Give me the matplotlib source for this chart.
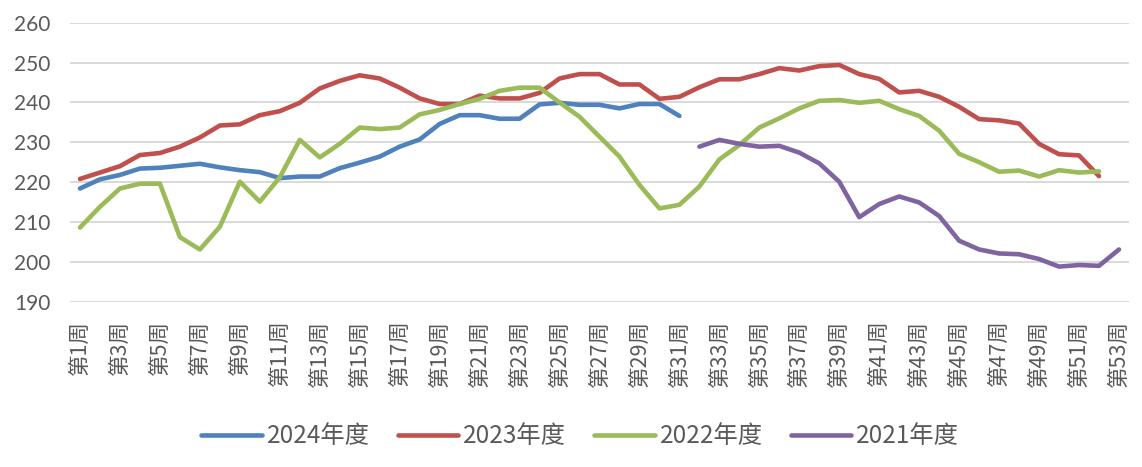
import matplotlib
matplotlib.use("Agg")
import matplotlib.pyplot as plt
import numpy as np

plt.rcParams['font.family'] = ['Lato', 'Noto Sans CJK SC', 'DejaVu Sans']

weeks = np.arange(1, 54)
week_labels = [f"第{w}周" for w in weeks]

y2024 = [218.4, 220.7, 221.8, 223.4, 223.6, 224.1, 224.6, 223.7, 223.0, 222.5,
         221.0, 221.4, 221.4, 223.5, 224.9, 226.4, 228.9, 230.7, 234.6, 236.8,
         236.8, 235.9, 235.9, 239.5, 239.9, 239.4, 239.4, 238.5, 239.6, 239.6,
         236.6]
y2023 = [220.8, 222.4, 224.0, 226.8, 227.3, 228.9, 231.2, 234.2, 234.5, 236.8,
         237.8, 239.9, 243.5, 245.4, 246.8, 246.0, 243.7, 241.0, 239.6, 239.6,
         241.7, 241.0, 241.0, 242.4, 246.0, 247.1, 247.1, 244.5, 244.5, 240.9,
         241.4, 243.8, 245.8, 245.8, 247.1, 248.6, 248.0, 249.1, 249.4, 247.1,
         245.9, 242.5, 242.9, 241.4, 238.9, 235.8, 235.5, 234.7, 229.6, 227.0,
         226.7, 221.5]
y2022 = [208.6, 213.8, 218.4, 219.6, 219.6, 206.2, 203.1, 208.8, 220.1, 215.1,
         221.2, 230.6, 226.2, 229.6, 233.7, 233.3, 233.7, 237.0, 238.1, 239.6,
         240.9, 242.9, 243.7, 243.7, 240.0, 236.4, 231.4, 226.4, 219.3, 213.4,
         214.3, 218.9, 225.7, 229.3, 233.7, 236.0, 238.5, 240.4, 240.6, 239.9,
         240.4, 238.3, 236.6, 232.9, 227.1, 225.0, 222.6, 222.9, 221.4, 223.0,
         222.4, 222.7]
# 2021 starts at week 32
y2021 = [228.9, 230.6, 229.6, 228.9, 229.1, 227.4, 224.7, 220.1, 211.2, 214.5,
         216.4, 214.9, 211.5, 205.3, 203.1, 202.1, 201.9, 200.7, 198.8, 199.2,
         199.0, 203.1]

fig = plt.figure(figsize=(11.42, 4.67), dpi=100)
ax = fig.add_axes([0.0613, 0.354, 0.9273, 0.5974])

lw = 3.3
ax.plot(weeks[:len(y2024)], y2024, color="#4F81BD", lw=lw, label="2024年度", solid_capstyle='round')
ax.plot(weeks[:len(y2023)], y2023, color="#C0504D", lw=lw, label="2023年度", solid_capstyle='round')
ax.plot(weeks[:len(y2022)], y2022, color="#9BBB59", lw=lw, label="2022年度", solid_capstyle='round')
ax.plot(weeks[31:31 + len(y2021)], y2021, color="#8064A2", lw=lw, label="2021年度", solid_capstyle='round')

ax.set_xlim(0.5, 53.5)
ax.set_ylim(190, 260)
ax.set_yticks(np.arange(190, 261, 10))
ax.set_xticks(weeks[::2])
ax.set_xticklabels(week_labels[::2], rotation=90, fontsize=15.5, color="#595959",
                   family=['Noto Sans CJK SC', 'DejaVu Sans'])
ax.tick_params(axis='y', labelsize=15, labelcolor="#595959", length=0, pad=14)
ax.tick_params(axis='x', length=0, pad=13)
ax.grid(axis='y', color="#D9D9D9", lw=1.4)
ax.set_axisbelow(True)
for s in ax.spines.values():
    s.set_visible(False)

leg = fig.legend(loc='center', bbox_to_anchor=(0.508, 0.066), ncol=4, frameon=False,
                 handlelength=2.5, handletextpad=0.2, columnspacing=1.15,
                 prop={'family': ['Noto Sans CJK SC'], 'size': 17.5})
for t in leg.get_texts():
    t.set_color("#595959")

fig.savefig("out.png", dpi=100)
